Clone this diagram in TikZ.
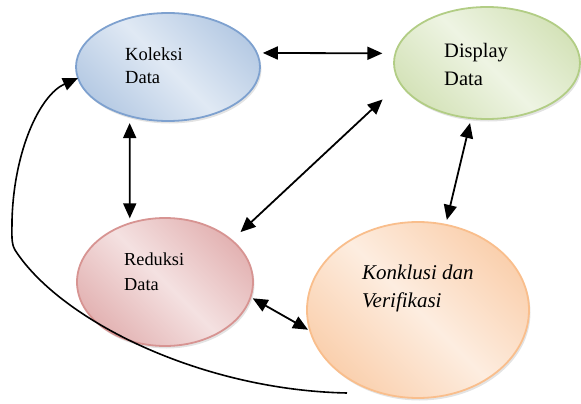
\documentclass[tikz,border=0pt]{standalone}
\usepackage{fontspec}
\setmainfont{Liberation Serif}
\usetikzlibrary{arrows.meta,shapes.geometric,shadows}
\definecolor{blueBd}{HTML}{7EA1CF}
\definecolor{blueDk}{HTML}{B7CBE4}
\definecolor{blueLt}{HTML}{E0E9F4}
\definecolor{greenBd}{HTML}{B2CD85}
\definecolor{greenDk}{HTML}{D5E3BA}
\definecolor{greenLt}{HTML}{EEF4E3}
\definecolor{redBd}{HTML}{D79492}
\definecolor{redDk}{HTML}{E3B3B3}
\definecolor{redLt}{HTML}{F4E1E1}
\definecolor{orBd}{HTML}{F9BE8C}
\definecolor{orDk}{HTML}{FAD0AE}
\definecolor{orLt}{HTML}{FDEDE0}
\begin{document}
\begin{tikzpicture}[x=1pt,y=-1pt,
  bubble/.style={ellipse, draw, line width=1.8pt, outer sep=0pt, inner sep=0pt,
    drop shadow={shadow xshift=1.5pt,shadow yshift=-2.5pt,opacity=0.22}},
  lbl/.style={anchor=base west, inner sep=0pt},
  dbl/.style={{Triangle[length=15pt,width=13pt]}-{Triangle[length=15pt,width=13pt]}, line width=1.8pt},
  sgl/.style={-{Triangle[length=15pt,width=13pt]}, line width=1.6pt}]
\useasboundingbox (0,0) rectangle (581,404);
% ellipses
\node[bubble, draw=blueBd, left color=blueDk, right color=blueDk, middle color=blueLt, shading angle=135,
  minimum width=184pt, minimum height=108pt] (kol) at (168,67) {};
\node[bubble, draw=greenBd, left color=greenDk, right color=greenDk, middle color=greenLt, shading angle=135,
  minimum width=186pt, minimum height=112pt] (dis) at (487,63) {};
\node[bubble, draw=redBd, left color=redDk, right color=redDk, middle color=redLt, shading angle=135,
  minimum width=176pt, minimum height=128pt] (red) at (165,282) {};
\node[bubble, draw=orBd, left color=orDk, right color=orDk, middle color=orLt, shading angle=135,
  minimum width=222pt, minimum height=176pt] (kon) at (418,310) {};
% labels
\node[lbl, font=\fontsize{18.5}{22}\selectfont] (kolA) at (125,60) {Koleksi};
\node[lbl, font=\fontsize{18.5}{22}\selectfont] (kolB) at (125,83) {Data};
\node[lbl, font=\fontsize{20.5}{24}\selectfont] (disA) at (444,58) {Display};
\node[lbl, font=\fontsize{20.5}{24}\selectfont] (disB) at (444,85) {Data};
\node[lbl, font=\fontsize{18.3}{22}\selectfont] (redA) at (124,265.5) {Reduksi};
\node[lbl, font=\fontsize{18.3}{22}\selectfont] (redB) at (124,290.5) {Data};
\node[lbl, font=\fontsize{21}{25}\selectfont\itshape] (konA) at (362,279) {Konklusi dan};
\node[lbl, font=\fontsize{21}{25}\selectfont\itshape] (konB) at (362,307) {Verifikasi};
% connectors
\draw[dbl, shorten <=6pt, shorten >=13pt] (kol.9) -- (dis.174);
\draw[dbl, shorten <=24pt, shorten >=12pt] (dis.193) -- (red.32);
\draw[dbl, shorten <=7pt, shorten >=5pt] (kol.232) -- (red.121);
\draw[dbl, shorten <=5pt, shorten >=5pt] (dis.254) -- (kon.72);
\draw[dbl, shorten <=2.5pt, shorten >=2.5pt] (red.350) -- (kon.191);
\coordinate (st) at (347,393);
\draw[sgl] (st) .. controls (200,390) and (60,320) .. (15,250)
  .. controls (11,243) and (12,235) .. (12,220)
  .. controls (14,150) and (40,95) .. (kol.187);
\end{tikzpicture}
\end{document}
